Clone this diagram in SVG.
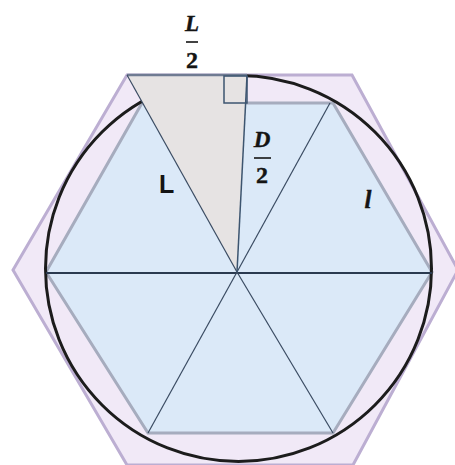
<svg xmlns="http://www.w3.org/2000/svg" width="455" height="465" viewBox="0 0 455 465">
<style>
.lbl{font-family:"Liberation Serif","DejaVu Serif",serif;font-weight:bold;fill:#141414;stroke:#141414;stroke-width:0.4}
.it{font-style:italic}
.spoke{stroke:#3a4b62;stroke-width:1.2;fill:none}
.bar{stroke:#141414;stroke-width:1.6}
</style>
<rect width="455" height="465" fill="#ffffff"/>
<g id="outer-hexagon">
<polygon points="127,75 352,75 458,270 353,465 127,465 13,270" fill="#f1e9f7" stroke="#bcaed2" stroke-width="3"/>
</g>
<g id="inner-hexagon">
<polygon points="142,103 333,103 432,272 333,433 148,433 46,272" fill="#dbe9f8" stroke="#a6acbe" stroke-width="3"/>
</g>
<g id="circle">
<circle cx="238.5" cy="268.5" r="193" fill="none" stroke="#1c1c1c" stroke-width="3"/>
</g>
<g id="triangle">
<polygon points="127,75 247,75 237,272" fill="#e6e3e3"/>
<line x1="127" y1="75" x2="247" y2="75" stroke="#6f7b92" stroke-width="2.5"/>
</g>
<g id="connectors">
<line x1="46" y1="273" x2="432" y2="273" stroke="#2a3a50" stroke-width="2"/>
<line class="spoke" x1="237" y1="272" x2="330" y2="103"/>
<line class="spoke" x1="237" y1="272" x2="148" y2="433"/>
<line class="spoke" x1="237" y1="272" x2="333" y2="433"/>
<line class="spoke" x1="127" y1="75" x2="237" y2="272" stroke-width="1.4"/>
<line x1="247" y1="76" x2="237" y2="272" stroke="#3d5570" stroke-width="1.5"/>
<rect x="224" y="76" width="23" height="27" fill="none" stroke="#3d5570" stroke-width="1.5"/>
</g>
<g id="label-L-half">
<text class="lbl it" x="192" y="31" font-size="23" text-anchor="middle">L</text>
<line class="bar" x1="186" y1="42" x2="198" y2="42"/>
<text class="lbl" x="192" y="68" font-size="24" text-anchor="middle">2</text>
</g>
<g id="label-D-half">
<text class="lbl it" x="262" y="147" font-size="23" text-anchor="middle">D</text>
<line class="bar" x1="254" y1="158" x2="271" y2="158"/>
<text class="lbl" x="262" y="183" font-size="24" text-anchor="middle">2</text>
</g>
<g id="label-L">
<text x="159" y="193" font-family="Liberation Sans, Arial, sans-serif" font-weight="bold" font-size="25" fill="#141414">L</text>
</g>
<g id="label-l">
<text class="lbl it" x="368" y="208" font-size="25" text-anchor="middle">l</text>
</g>
</svg>
